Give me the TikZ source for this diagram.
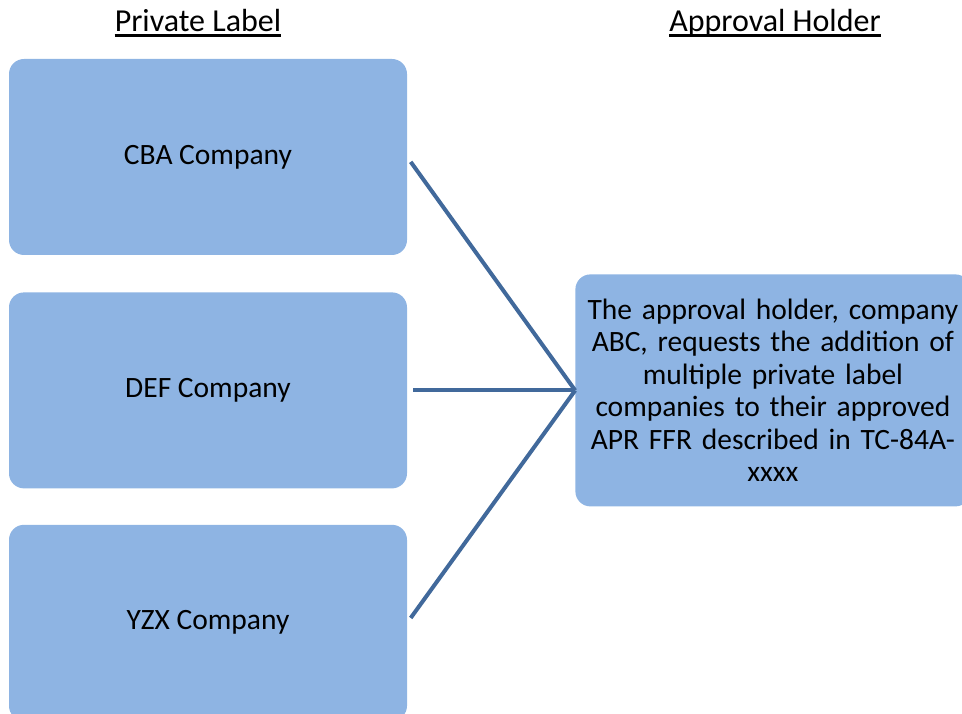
\documentclass[tikz,border=0pt]{standalone}
\usepackage{fontspec}
\setmainfont{Carlito}
\usetikzlibrary{positioning}
\definecolor{boxblue}{HTML}{8EB4E3}
\definecolor{linkblue}{HTML}{41699B}
\tikzset{
  compbox/.style={
    rectangle, fill=boxblue, rounded corners=15pt, minimum width=398pt, minimum height=196pt,
    inner sep=0pt, align=center, font=\fontsize{29.5}{32.5}\selectfont
  },
  holdbox/.style={compbox, minimum width=395pt, minimum height=232pt, text width=381pt},
  link/.style={draw=linkblue, line width=4pt, shorten <=6pt},
  headlabel/.style={inner sep=0pt, anchor=base, font=\fontsize{32}{36}\selectfont},
  underbar/.style={line width=3pt}
}

\begin{document}
\begin{tikzpicture}[x=1pt, y=1pt]
    \useasboundingbox (0,0) rectangle (962,-714);
    \node[headlabel] (plhead) at (198,-32) {Private Label};
    \node[headlabel] (ahhead) at (775,-32) {Approval Holder};
    \draw[underbar] ([yshift=-4pt]plhead.base west) -- ([yshift=-4pt]plhead.base east);
    \draw[underbar] ([yshift=-4pt]ahhead.base west) -- ([yshift=-4pt]ahhead.base east);
    \node[compbox] (cba) at (208,-157) {CBA Company};
    \node[compbox, below=37pt of cba] (def) {DEF Company};
    \node[compbox, below=36pt of def] (yzx) {YZX Company};
    \node[holdbox, right=168pt of def] (hold) {The approval holder, company\\ABC, requests the addition of\\multiple private label\\companies to their approved\\APR FFR described in TC-84A-\\xxxx};
    \draw[link] (cba.east) -- (hold.west);
    \draw[link] (def.east) -- (hold.west);
    \draw[link] (yzx.east) -- (hold.west);
\end{tikzpicture}
\end{document}
